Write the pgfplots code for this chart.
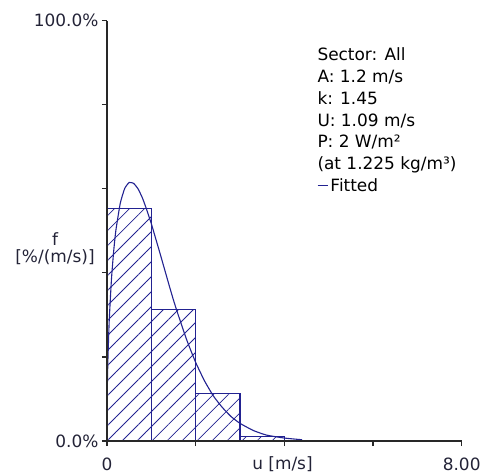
\documentclass[border=0pt]{standalone}
\usepackage{fontspec}
\setmainfont{DejaVu Sans}
\usepackage{pgfplots}
\pgfplotsset{compat=1.18}
\usetikzlibrary{patterns.meta}
\definecolor{navy}{RGB}{34,34,145}
\definecolor{axisgray}{RGB}{40,40,40}
\definecolor{labelgray}{RGB}{35,35,55}
\begin{document}
\begin{tikzpicture}[font=\fontsize{17}{21.7}\selectfont]
\useasboundingbox (-107bp,-32bp) rectangle (374bp,441bp);
\begin{axis}[
  at={(0,0)}, anchor=south west,
  scale only axis, width=354.7bp, height=420.3bp,
  xmin=0, xmax=8, ymin=0, ymax=100,
  axis lines*=left,
  axis line style={axisgray, line width=1.2bp},
  tick style={axisgray, line width=1.2bp},
  tick align=outside,
  major tick length=5bp,
  xtick={0,2,4,6,8},
  xticklabels={0,,,,8.00},
  ytick={0,20,40,60,80,100},
  yticklabels={0.0\%,,,,,100.0\%},
  xticklabel style={text=labelgray, anchor=base, yshift=-24bp, inner sep=0pt, text depth=0pt},
  yticklabel style={text=labelgray},
  clip=false,
  axis on top,
]
\addplot[ybar interval, draw=navy, line width=1.3bp,
  pattern={Lines[angle=45,distance=10.6bp,line width=0.8bp]}, pattern color=navy]
  coordinates {(0,55.3) (1,31.3) (2,11.3) (3,1.0) (4,0)};
\addplot[navy, line width=1.1bp, smooth, tension=0.3] coordinates {
  (0.005,10.3) (0.01,14.0) (0.02,19.1) (0.05,28.6) (0.1,38.4) (0.15,45.1)
  (0.2,50.1) (0.3,56.6) (0.4,60.1) (0.5,61.5) (0.6,61.3) (0.7,60.0)
  (0.8,57.8) (0.9,54.9) (1.0,51.7) (1.1,48.1) (1.2,44.5) (1.3,40.8)
  (1.4,37.1) (1.5,33.5) (1.6,30.2) (1.8,24.0) (2.0,18.7) (2.2,14.3)
  (2.4,10.7) (2.6,8.0) (2.8,5.8) (3.0,4.2) (3.3,2.5) (3.6,1.4)
  (4.0,0.7) (4.4,0.3)
};
\end{axis}
\node[anchor=base, text=labelgray, text depth=0pt] at (175.5bp,-28bp) {u [m/s]};
\node[anchor=base, text=labelgray] at (-52bp,195bp) {f};
\node[anchor=base, text=labelgray] at (-52bp,178bp) {[\%/(m/s)]};
\begin{scope}[every node/.style={anchor=base west, inner sep=0pt, text=black}]
\node at (210.3bp,380bp) {Sector: All};
\node at (210.3bp,358.3bp) {A: 1.2 m/s};
\node at (210.3bp,336.6bp) {k: 1.45};
\node at (210.3bp,314.9bp) {U: 1.09 m/s};
\node at (210.3bp,293.2bp) {P: 2 W/m²};
\node at (210.3bp,271.5bp) {(at 1.225 kg/m³)};
\node at (210.3bp,249.8bp) {{\color{navy}\rule[0.3em]{0.6em}{1bp}}\,Fitted};
\end{scope}
\end{tikzpicture}
\end{document}
